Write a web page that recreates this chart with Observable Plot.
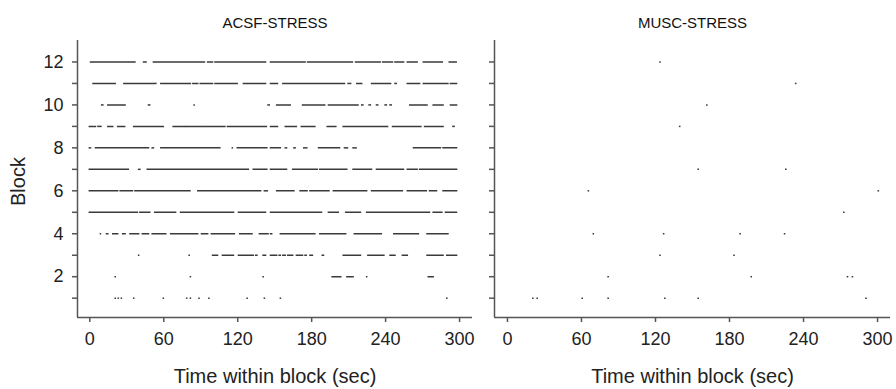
<!DOCTYPE html>
<html>
<head>
<meta charset="utf-8">
<script src="https://cdn.jsdelivr.net/npm/d3@7"></script>
<script src="https://cdn.jsdelivr.net/npm/@observablehq/plot@0.6"></script>
<style>
  html, body { margin: 0; padding: 0; background: #fff; }
  #wrap { position: relative; width: 896px; height: 389px; display: flex; }
</style>
</head>
<body>
<div id="wrap"></div>
<script>
// ---- Tick labels / categories ----
const xTicks = [0, 60, 120, 180, 240, 300];
const yTicks = [1, 2, 3, 4, 5, 6, 7, 8, 9, 10, 11, 12];
const panelTitles = ["ACSF-STRESS", "MUSC-STRESS"];
const xTitle = "Time within block (sec)";
const yTitle = "Block";

// ---- ACSF-STRESS: runs of events per block, [start, end] in seconds ----
const acsf12 = [[1,37],[44,46],[52,94],[96,100],[102,143],[147,175],[177,178],[179,197],[198,214],[216,236],[238,246],[248,255],[258,266],[271,287],[292,298]];
const acsf11 = [[3,21],[28,52],[53,54],[58,82],[84,88],[90,100],[102,120],[125,143],[147,153],[157,207],[210,212],[217,221],[229,245],[248,249],[258,268],[271,291],[293,298]];
const acsf10 = [[10,11],[15,29],[48,49],[85,85],[145,146],[152,163],[173,191],[194,209],[210,218],[221,222],[227,228],[233,234],[240,241],[244,245],[260,274],[279,287],[293,298]];
const acsf9  = [[0,5],[7,10],[15,19],[23,29],[36,60],[68,78],[79,92],[93,110],[112,144],[147,153],[159,168],[172,183],[193,200],[206,215],[216,242],[246,269],[272,287],[295,296]];
const acsf8  = [[0,1],[5,48],[51,52],[58,106],[116,116],[120,144],[147,155],[159,160],[166,167],[174,177],[186,203],[207,210],[214,217],[263,285],[287,298]];
const acsf7  = [[0,32],[40,41],[47,129],[133,144],[147,160],[165,185],[187,209],[214,229],[233,255],[258,266],[268,298]];
const acsf6  = [[0,23],[25,35],[37,82],[88,139],[142,145],[152,166],[171,177],[179,195],[198,225],[229,254],[258,274],[276,282],[287,298]];
const acsf5  = [[0,39],[41,49],[53,70],[74,117],[121,143],[147,189],[194,202],[208,220],[225,276],[279,286],[289,298]];
const acsf4  = [[9,9],[14,15],[19,23],[27,29],[33,40],[43,48],[51,62],[66,88],[91,96],[99,118],[122,132],[138,145],[147,148],[155,183],[187,208],[215,237],[247,267],[274,291]];
const acsf3  = [[40,40],[81,81],[100,104],[108,117],[121,133],[135,136],[141,143],[147,152],[154,155],[157,159],[161,163],[164,165],[168,173],[175,176],[179,181],[189,190],[206,220],[226,239],[244,248],[254,258],[274,287],[290,298]];
const acsf2  = [[21,21],[82,82],[141,141],[197,204],[209,214],[225,225],[275,279]];
const acsf1  = [[21,21],[23.5,23.5],[26,26],[36,36],[60,60],[79,79],[82,82],[89,89],[97,97],[128,128],[142,142],[155,155],[290,290]];
const acsfRuns = [acsf1, acsf2, acsf3, acsf4, acsf5, acsf6, acsf7, acsf8, acsf9, acsf10, acsf11, acsf12];

// ---- MUSC-STRESS: single events (block, time in seconds) ----
const muscBlock = [12, 11, 10, 9, 7, 7, 6, 6, 5, 4, 4, 4, 4, 3, 3, 2, 2, 2, 2, 1, 1, 1, 1, 1, 1, 1];
const muscTime  = [124, 234, 162, 140, 155, 226, 66, 301, 273, 70, 127, 189, 225, 124, 184, 82, 198, 276, 280, 21, 24.5, 61, 82, 128, 155, 291];

// ---- build tables ----
const acsfData = acsfRuns.flatMap((runs, i) => runs.map(([s, e]) => ({block: i + 1, start: s, end: e})));
const muscData = muscBlock.map((b, i) => ({block: b, start: muscTime[i], end: muscTime[i]}));

const yDomain = [0.1, 13];
const axisColor = "#555";
const markColor = "#3a3a3a";

function panel({title, data, width, marginLeft, marginRight, xDomain, yLabels}) {
  return Plot.plot({
    width, height: 389,
    marginTop: 40, marginBottom: 72, marginLeft, marginRight,
    style: {fontFamily: "'Liberation Sans', Arial, sans-serif", fontSize: "18px", color: "#222", background: "#fff", overflow: "visible"},
    x: {domain: xDomain, label: null},
    y: {domain: yDomain, label: null},
    marks: [
      Plot.ruleX([xDomain[0]], {stroke: axisColor, strokeWidth: 1.5}),
      Plot.ruleY([yDomain[0]], {stroke: axisColor, strokeWidth: 1.5}),
      Plot.axisX(xTicks, {tickSize: 5, tickPadding: 10, stroke: axisColor, strokeWidth: 1.5, fontSize: 18, fill: "#222"}),
      Plot.axisY(yTicks, {tickSize: 5, tickPadding: 9, stroke: axisColor, strokeWidth: 1.5, fontSize: 18, fill: "#222",
        tickFormat: d => (yLabels && d % 2 === 0) ? String(d) : ""}),
      Plot.ruleY(data, {y: "block", x1: "start", x2: "end", stroke: markColor, strokeWidth: 1.5,
        strokeLinecap: "square", strokeDasharray: "3,1"}),
      Plot.text([title], {frameAnchor: "top", dy: -23, fontSize: 15, fill: "#111"}),
      Plot.text([xTitle], {frameAnchor: "bottom", dy: 65, fontSize: 20, fill: "#222"}),
      ...(yLabels ? [Plot.text([yTitle], {frameAnchor: "left", dx: -59, dy: 27, rotate: -90, fontSize: 20, fill: "#222"})] : [])
    ]
  });
}

const wrap = document.getElementById("wrap");
wrap.append(panel({title: panelTitles[0], data: acsfData, width: 480, marginLeft: 77, marginRight: 8, xDomain: [-10, 310.5], yLabels: true}));
wrap.append(panel({title: panelTitles[1], data: muscData, width: 416, marginLeft: 14, marginRight: 6, xDomain: [-10.5, 310.5], yLabels: false}));
</script>
</body>
</html>
